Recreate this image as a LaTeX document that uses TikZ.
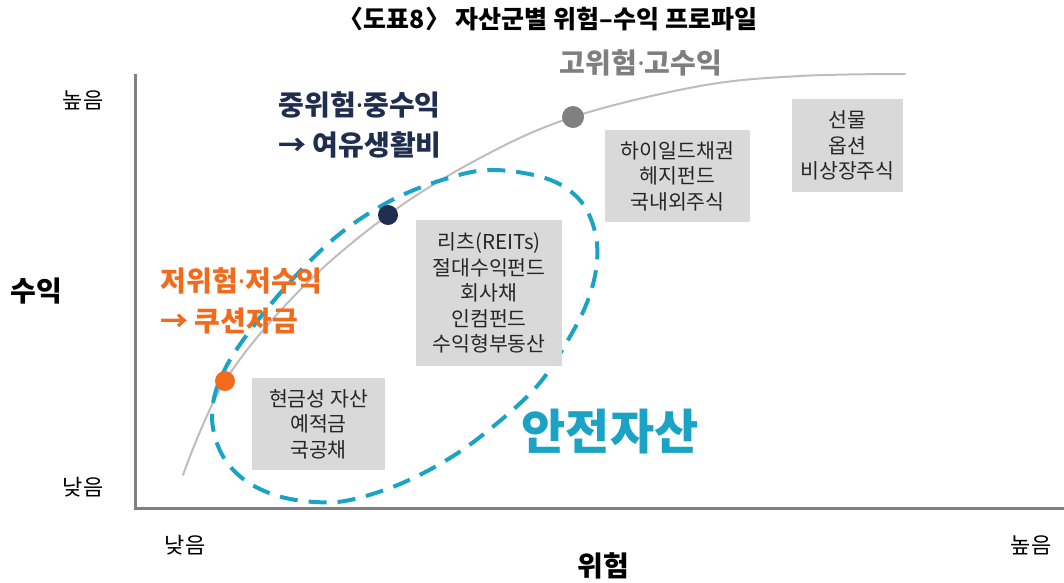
\documentclass[tikz,border=0pt]{standalone}
\usepackage{fontspec}
\setmainfont{Noto Sans CJK KR}
\newfontfamily\latinf{Noto Sans}
\newcommand{\mdot}{{\latinf\bfseries ·}}
\definecolor{boxgray}{HTML}{D9D9D9}
\definecolor{axisgray}{HTML}{808080}
\definecolor{curvegray}{HTML}{BDBDBD}
\definecolor{hiGray}{HTML}{7F7F7F}
\definecolor{navy}{HTML}{1F2D4E}
\definecolor{orng}{HTML}{F26B1D}
\definecolor{teal}{HTML}{1BA3C6}
\definecolor{txt}{HTML}{262626}
\tikzset{
  assetbox/.style={fill=boxgray, draw=none, align=center, text=txt, inner sep=0pt,
    font=\fontsize{20.5}{25.5}\selectfont},
  axislabel/.style={text=black, font=\fontsize{22}{24}\selectfont},
  axistitle/.style={text=black, font=\bfseries\fontsize{28}{30}\selectfont},
  dotstyle/.style={circle, inner sep=0pt, minimum size=20pt},
  zonelabel/.style={font=\bfseries\fontsize{28}{40}\selectfont, align=left, anchor=west}
}
\begin{document}
\begin{tikzpicture}[x=1pt,y=-1pt]
\useasboundingbox (0,0) rectangle (1064,582);
% title
\node[font=\bfseries\fontsize{25}{27}\selectfont] (title) at (548,19) {〈도표8〉 자산군별 위험–수익 프로파일};
% axes
\coordinate (ytop) at (135,74);
\coordinate (origin) at (135,508);
\coordinate (xend) at (1064,508);
\draw[axisgray, line width=3pt] (ytop) -- (origin) -- (xend);
% axis labels
\node[axislabel] (yhigh) at (83,100) {높음};
\node[axislabel] (ylow) at (83,487) {낮음};
\node[axislabel] (xlow) at (185,545) {낮음};
\node[axislabel] (xhigh) at (1031,545) {높음};
\node[axistitle] (ytitle) at (36,291) {수익};
\node[axistitle] (xtitle) at (603,566) {위험};
% curve
\draw[curvegray, line width=2pt, line cap=round] plot[smooth, tension=0.6] coordinates
  {(183,475) (225,381) (300,290) (388,215) (480,158) (573,117) (700,86) (800,76) (905,74)};
% dashed loop
\draw[teal, line width=4pt, dash pattern=on 18pt off 11pt] plot[smooth cycle, tension=0.6] coordinates
  {(490,170) (545,178) (578,198) (594,228) (597,262) (588,300) (568,340) (538,385)
   (495,425) (450,458) (400,484) (350,500) (315,502) (278,496) (246,481) (224,458)
   (213,428) (214,398) (226,367) (246,336) (276,298) (310,261) (346,229) (392,200) (442,180)};
% dots
\node[dotstyle, fill=orng] (lowdot) at (225,381) {};
\node[dotstyle, fill=navy] (middot) at (388,215) {};
\node[dotstyle, fill=axisgray, minimum size=22pt] (highdot) at (573,117) {};
% zone labels
\node[zonelabel, text=orng] (lowlbl) at (157,301) {저위험\mdot 저수익\\→ 쿠션자금};
\node[zonelabel, text=navy] (midlbl) at (275,125) {중위험\mdot 중수익\\→ 여유생활비};
\node[font=\bfseries\fontsize{28}{30}\selectfont, text=hiGray] (highlbl) at (641,63) {고위험\mdot 고수익};
% boxes
\node[assetbox, minimum width=133pt, minimum height=92pt] (box1) at (318.5,424) {현금성 자산\\예적금\\국공채};
\node[assetbox, minimum width=146pt, minimum height=146pt] (box2) at (489,293) {리츠(REITs)\\절대수익펀드\\회사채\\인컴펀드\\수익형부동산};
\node[assetbox, minimum width=145pt, minimum height=92pt] (box3) at (677.5,176) {하이일드채권\\헤지펀드\\국내외주식};
\node[assetbox, minimum width=111pt, minimum height=93pt] (box4) at (847.5,145.5) {선물\\옵션\\비상장주식};
% safe asset label
\node[font=\bfseries\fontsize{48}{52}\selectfont, text=teal] (safe) at (610,432) {안전자산};
\end{tikzpicture}
\end{document}
